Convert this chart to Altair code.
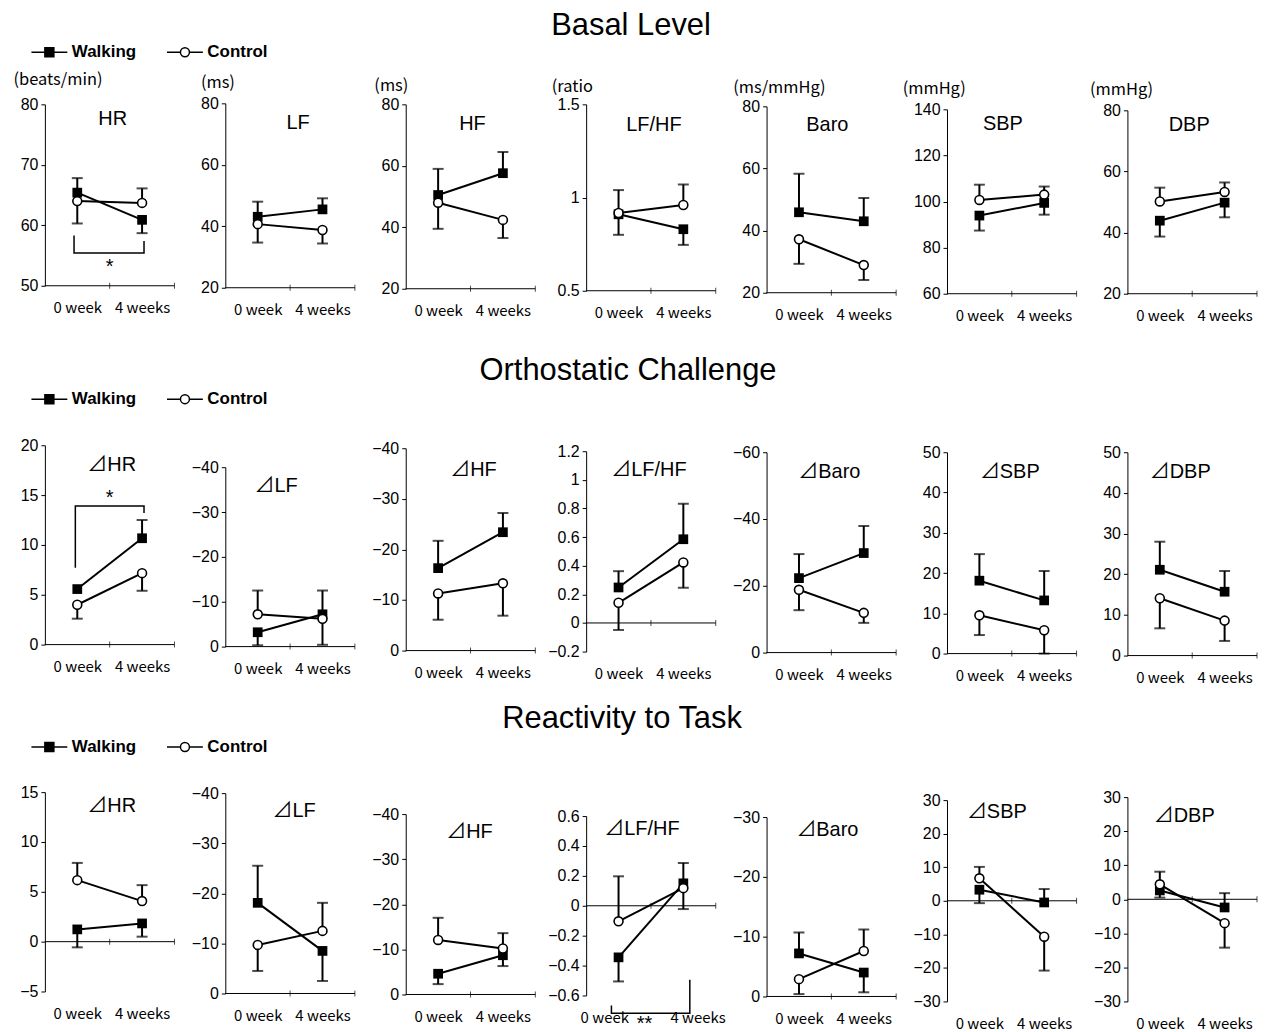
import altair as alt
import pandas as pd

# ---------------- data ----------------
SERIES = ["Walking", "Control"]
WEEKS = ["0 week", "4 weeks"]
SECTIONS = ["Basal Level", "Orthostatic Challenge", "Reactivity to Task"]

NAMES = [
    ["HR", "LF", "HF", "LF/HF", "Baro", "SBP", "DBP"],
    ["⊿HR", "⊿LF", "⊿HF", "⊿LF/HF", "⊿Baro", "⊿SBP", "⊿DBP"],
    ["⊿HR", "⊿LF", "⊿HF", "⊿LF/HF", "⊿Baro", "⊿SBP", "⊿DBP"],
]
UNITS = ["(beats/min)", "(ms)", "(ms)", "(ratio", "(ms/mmHg)", "(mmHg)", "(mmHg)"]

# Basal level  [0 week, 4 weeks]
BASAL_WALK = [[65.4, 60.9], [43.1, 45.5], [50.5, 57.6], [0.91, 0.83], [45.9, 43.0], [93.9, 99.4], [43.9, 49.8]]
BASAL_WALK_ERR = [[67.8, 58.7], [48.0, 49.1], [59.0, 64.5], [0.80, 0.746], [58.3, 50.5], [87.4, 94.3], [38.7, 45.0]]
BASAL_CTRL = [[64.0, 63.7], [40.7, 38.8], [48.0, 42.4], [0.917, 0.96], [37.2, 28.9], [100.7, 103.0], [50.2, 53.3]]
BASAL_CTRL_ERR = [[60.3, 66.1], [34.7, 34.4], [39.5, 36.5], [1.04, 1.07], [29.3, 24.1], [107.3, 106.5], [54.7, 56.4]]

# Orthostatic challenge
ORTHO_WALK = [[5.57, 10.67], [-3.2, -7.2], [-16.3, -23.4], [0.248, 0.585], [-22.3, -29.8], [18.1, 13.2], [21.1, 15.7]]
ORTHO_WALK_ERR = [[None, 12.5], [-0.3, -12.5], [-21.7, -27.2], [0.362, 0.833], [-29.5, -37.9], [24.7, 20.5], [28.0, 20.8]]
ORTHO_CTRL = [[4.0, 7.17], [-7.2, -6.2], [-11.3, -13.3], [0.141, 0.423], [-18.8, -11.9], [9.5, 5.8], [14.1, 8.6]]
ORTHO_CTRL_ERR = [[2.6, 5.4], [-12.5, -0.4], [-6.1, -6.9], [-0.049, 0.246], [-12.7, -8.9], [4.6, 0.0], [6.7, 3.6]]

# Reactivity to task
TASK_WALK = [[1.23, 1.83], [-18.1, -8.5], [-4.6, -8.7], [-0.345, 0.150], [-7.2, -4.0], [3.3, -0.5], [2.6, -2.4]]
TASK_WALK_ERR = [[-0.57, 0.5], [-25.5, -2.5], [-2.3, -6.3], [-0.506, 0.286], [-10.7, -0.7], [-0.7, 3.5], [0.5, 1.8]]
TASK_CTRL = [[6.17, 4.07], [-9.7, -12.5], [-12.1, -10.2], [-0.104, 0.118], [-2.9, -7.6], [6.7, -10.7], [4.4, -7.0]]
TASK_CTRL_ERR = [[7.9, 5.67], [-4.5, -18.1], [-17.0, -13.6], [0.197, -0.022], [-0.4, -11.2], [10.1, -20.8], [8.1, -14.2]]

WALK = [BASAL_WALK, ORTHO_WALK, TASK_WALK]
WALK_ERR = [BASAL_WALK_ERR, ORTHO_WALK_ERR, TASK_WALK_ERR]
CTRL = [BASAL_CTRL, ORTHO_CTRL, TASK_CTRL]
CTRL_ERR = [BASAL_CTRL_ERR, ORTHO_CTRL_ERR, TASK_CTRL_ERR]

DOMAINS = [
    [[50, 80], [20, 80], [20, 80], [0.5, 1.5], [20, 80], [60, 140], [20, 80]],
    [[0, 20], [0, -40], [0, -40], [-0.2, 1.2], [0, -60], [0, 50], [0, 50]],
    [[-5, 15], [0, -40], [0, -40], [-0.6, 0.6], [0, -30], [-30, 30], [-30, 30]],
]
TICKS = [
    [[50, 60, 70, 80], [20, 40, 60, 80], [20, 40, 60, 80], [0.5, 1, 1.5], [20, 40, 60, 80],
     [60, 80, 100, 120, 140], [20, 40, 60, 80]],
    [[0, 5, 10, 15, 20], [0, -10, -20, -30, -40], [0, -10, -20, -30, -40],
     [-0.2, 0, 0.2, 0.4, 0.6, 0.8, 1, 1.2], [0, -20, -40, -60], [0, 10, 20, 30, 40, 50],
     [0, 10, 20, 30, 40, 50]],
    [[-5, 0, 5, 10, 15], [0, -10, -20, -30, -40], [0, -10, -20, -30, -40],
     [-0.6, -0.4, -0.2, 0, 0.2, 0.4, 0.6], [0, -10, -20, -30], [-30, -20, -10, 0, 10, 20, 30],
     [-30, -20, -10, 0, 10, 20, 30]],
]

# significance brackets
SIG_ROW = [0, 1, 2]
SIG_COL = [0, 0, 3]
SIG_X = [[0.45, 0.45, 1.53, 1.53], [0.47, 0.47, 1.53, 1.53], [0.39, 0.39, 1.6, 1.6]]
SIG_Y = [[58.3, 55.4, 55.4, 57.4], [7.7, 13.9, 13.9, 13.2], [-0.667, -0.718, -0.718, -0.495]]
SIG_LABEL = ["*", "*", "**"]
SIG_LX = [1.0, 1.0, 0.9]
SIG_LY = [53.6, 15.0, -0.77]

# ---------------- layout / style ----------------
COL_W = 130
ROW_TOPS = [[3, 2, 3, 3, 5, 8, 9], [15, 37, 18, 21, 22, 22, 22], [0, 1, 22, 24, 25, 8, 5]]
ROW_BOTS = [[185, 187, 188, 190, 192, 193, 193], [215, 217, 221, 222, 223, 224, 226],
            [200, 202, 203, 204, 205, 210, 210]]
TITLE_DY = [[15, 20, 20, 21, 19, 15, 15], [20, 19, 22, 19, 20, 20, 20], [14, 18, 18, 13, 13, 12, 19]]
TITLE_DX = [[3, 8, 2, 3, -4, -9, -3], [2, -14, 3, -2, -2, -2, -12], [2, 4, -1, -9, -4, -15, -8]]
UNIT_X = [-32, -25, -32, -35, -34, -45, -38]
UNIT_Y = [-22, -19, -16, -15, -14, -13, -12]
LEGEND_XY = [(-4, -58), (-4, -40), (-4, -54)]
HEADING_XY = [(45, -76), (42, -59), (36, -73)]
XLABEL_POS = {(2, 3): [0.28, 1.72]}

SANS = "Liberation Sans"
TITLE_FONT = "Liberation Sans, Noto Sans CJK JP"
JP = "Noto Sans CJK JP"

PATH_WALK = "M-4,0L-1,0M1,0L4,0M-1,-1L1,-1L1,1L-1,1Z"
PATH_CTRL = "M-4,0L-1,0M1,0L4,0M1,0A1,1,0,1,1,-1,0A1,1,0,1,1,1,0Z"


def make_panel(r, c):
    domain = DOMAINS[r][c]
    lo, hi = min(domain), max(domain)
    baseline = 0 if lo <= 0 <= hi else domain[0]
    top, bot = ROW_TOPS[r][c], ROW_BOTS[r][c]

    recs = []
    for s, m, e in (("Walking", WALK[r][c], WALK_ERR[r][c]), ("Control", CTRL[r][c], CTRL_ERR[r][c])):
        for i in range(2):
            recs.append({"series": s, "pos": i + 0.5, "mean": m[i],
                         "err": float("nan") if e[i] is None else e[i]})
    df = pd.DataFrame(recs)
    df_err = df.dropna(subset=["err"])

    xs = alt.Scale(domain=[0, 2], nice=False, zero=False)
    ys = alt.Scale(domain=domain, range=[bot, top], nice=False, zero=False)
    xaxis = alt.Axis(values=XLABEL_POS.get((r, c), [0.5, 1.5]),
                     labelExpr=f"datum.value < 1 ? '{WEEKS[0]}' : '{WEEKS[1]}'",
                     ticks=False, domain=False, grid=False, labelPadding=15,
                     labelFont=JP, labelFontSize=15, labelColor="black", title=None,
                     labelFlush=False, labelOverlap=False)
    if r == 0:
        yaxis = alt.Axis(values=TICKS[r][c], format=".2~f", title=UNITS[c], titleAngle=0,
                         titleAlign="left", titleBaseline="middle", titleX=UNIT_X[c],
                         titleY=UNIT_Y[c], titleFont=JP, titleFontSize=16.5,
                         titleFontWeight="normal", titleColor="black",
                         labelOverlap=False, labelFlush=False)
    else:
        yaxis = alt.Axis(values=TICKS[r][c], format=".2~f", title=None,
                         labelOverlap=False, labelFlush=False)

    def X(f):
        return alt.X(f, type="quantitative", scale=xs, axis=xaxis)

    def Y(f):
        return alt.Y(f, type="quantitative", scale=ys, axis=yaxis)

    base_df = pd.DataFrame({"x0": [0], "x1": [2], "yb": [baseline]})
    axis_line = alt.Chart(base_df).mark_rule(color="black", strokeWidth=1).encode(
        x=X("x0"), x2="x1:Q", y=Y("yb"))
    tick_df = pd.DataFrame({"xt": [1, 2], "yb": [baseline, baseline]})
    xticks = alt.Chart(tick_df).mark_tick(orient="vertical", size=6, thickness=1, color="black").encode(
        x=X("xt"), y=Y("yb"))

    err_rule = alt.Chart(df_err).mark_rule(color="black", strokeWidth=2).encode(
        x=X("pos"), y=Y("mean"), y2="err:Q")
    caps = alt.Chart(df_err).mark_tick(orient="horizontal", size=11, thickness=2, color="black").encode(
        x=X("pos"), y=Y("err"))
    lines = alt.Chart(df).mark_line(color="black", strokeWidth=2).encode(
        x=X("pos"), y=Y("mean"), detail="series:N")
    walk_pts = alt.Chart(df[df.series == "Walking"]).mark_square(
        size=95, color="black", opacity=1).encode(x=X("pos"), y=Y("mean"))
    ctrl_pts = alt.Chart(df[df.series == "Control"]).mark_point(
        shape="circle", size=80, filled=True, fill="white", stroke="black",
        strokeWidth=1.6, opacity=1).encode(x=X("pos"), y=Y("mean"))

    title = alt.Chart(pd.DataFrame({"t": [NAMES[r][c]]})).mark_text(
        font=TITLE_FONT, fontSize=20, color="black", align="center", baseline="middle").encode(
        text="t:N", x=alt.value(COL_W / 2 + TITLE_DX[r][c]), y=alt.value(top + TITLE_DY[r][c]))

    layers = [axis_line, xticks, lines, err_rule, caps, walk_pts, ctrl_pts, title]

    for k in range(len(SIG_ROW)):
        if SIG_ROW[k] == r and SIG_COL[k] == c:
            bdf = pd.DataFrame({"bx": SIG_X[k], "by": SIG_Y[k], "o": list(range(4))})
            layers.append(alt.Chart(bdf).mark_line(color="black", strokeWidth=1.5).encode(
                x=X("bx"), y=Y("by"), order="o:Q"))
            sdf = pd.DataFrame({"sx": [SIG_LX[k]], "sy": [SIG_LY[k]], "s": [SIG_LABEL[k]]})
            layers.append(alt.Chart(sdf).mark_text(
                font=SANS, fontSize=20, color="black", baseline="middle", dy=3).encode(
                x=X("sx"), y=Y("sy"), text="s:N"))

    if c == 0:
        lx, ly = LEGEND_XY[r]
        leg = alt.Legend(title=None, orient="none", legendX=lx, legendY=ly, direction="horizontal",
                         symbolSize=81, symbolStrokeWidth=1.5, symbolStrokeColor="black",
                         labelFont=SANS, labelFontSize=17, labelFontWeight="bold",
                         labelColor="black", labelOffset=14, columnPadding=27, padding=0)
        leg_df = pd.DataFrame({"series": SERIES})
        layers.append(alt.Chart(leg_df).transform_filter("false").mark_point(
            filled=True, strokeWidth=1.5, opacity=1).encode(
            shape=alt.Shape("series:N", scale=alt.Scale(domain=SERIES, range=[PATH_WALK, PATH_CTRL]),
                            legend=leg),
            fill=alt.Fill("series:N", scale=alt.Scale(domain=SERIES, range=["black", "white"]),
                          legend=leg),
            stroke=alt.Stroke("series:N", scale=alt.Scale(domain=SERIES, range=["black", "black"]),
                              legend=leg)))

    if c == 3:
        hx, hy = HEADING_XY[r]
        layers.append(alt.Chart(pd.DataFrame({"h": [SECTIONS[r]]})).mark_text(
            font=SANS, fontSize=31, color="black", align="center", baseline="middle").encode(
            text="h:N", x=alt.value(hx), y=alt.value(hy)))

    return alt.layer(*layers).properties(width=COL_W, height=bot)


panels = [make_panel(r, c) for r in range(3) for c in range(7)]

chart = alt.concat(
    *panels, columns=7, spacing={"row": 137, "column": 51}, bounds="flush", align="each"
).resolve_scale(shape="independent", fill="independent", stroke="independent").properties(
    padding={"left": 5, "top": 0, "right": 0, "bottom": 0}
).configure_view(stroke=None).configure_axis(
    grid=False, domainColor="black", tickColor="black", labelColor="black",
    labelFont=SANS, labelFontSize=16, tickSize=4, labelPadding=3, domainWidth=1, tickWidth=1
)

chart.save("out.html", embed_options={"renderer": "svg", "actions": False})
